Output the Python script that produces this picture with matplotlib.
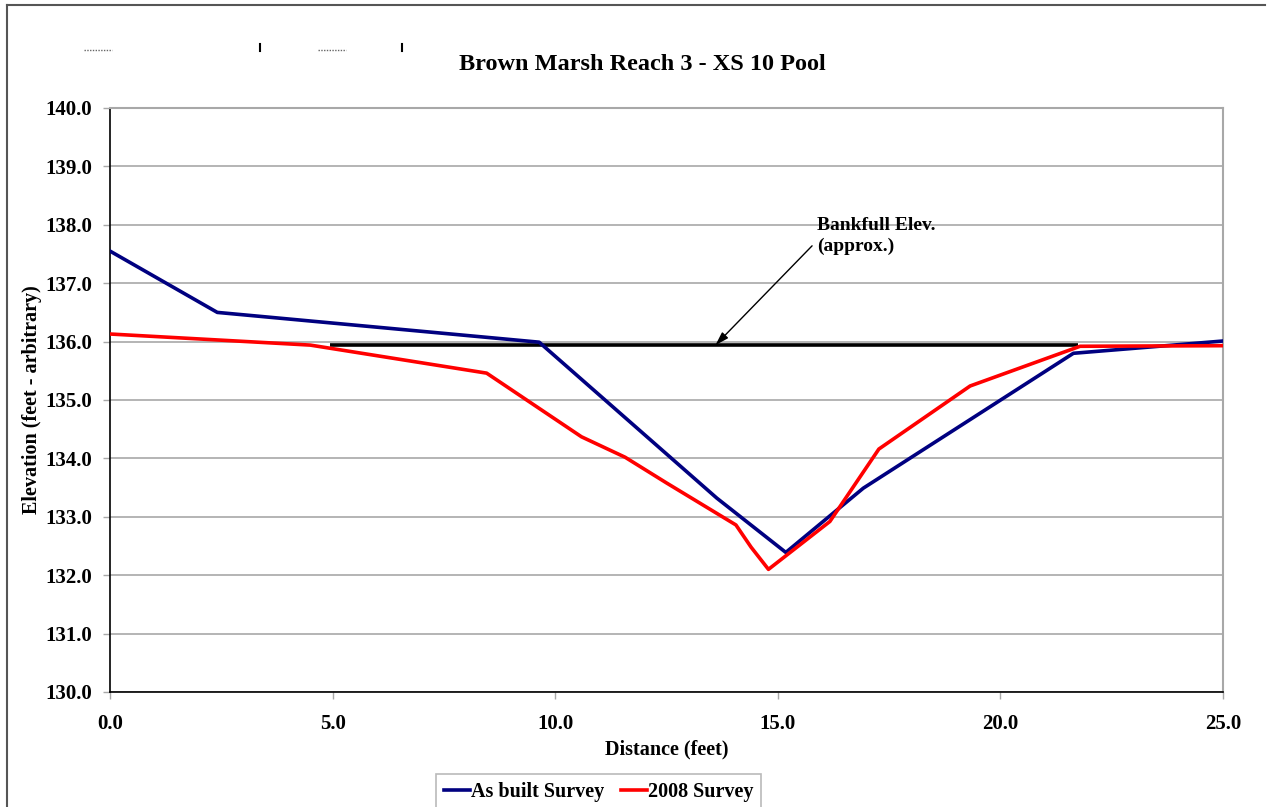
import matplotlib
matplotlib.use("Agg")
import matplotlib.pyplot as plt
from matplotlib.lines import Line2D

# survey data
asbuilt_x = [0.0, 2.41, 9.64, 13.63, 15.18, 16.92, 21.64, 25.0]
asbuilt_y = [137.55, 136.50, 135.99, 133.32, 132.39, 133.49, 135.80, 136.01]

survey08_x = [0.0, 4.5, 8.46, 10.59, 11.57, 12.5, 14.06, 14.4, 14.79, 16.17, 17.27, 19.32, 21.79, 25.0]
survey08_y = [136.13, 135.94, 135.46, 134.37, 134.02, 133.58, 132.86, 132.48, 132.10, 132.92, 134.16, 135.24, 135.92, 135.93]

bankfull_x = [4.94, 21.74]
bankfull_y = [135.94, 135.94]

x_ticks = [0, 5, 10, 15, 20, 25]
y_ticks = [130, 131, 132, 133, 134, 135, 136, 137, 138, 139, 140]

plt.rcParams['font.family'] = ['Liberation Serif', 'DejaVu Serif']
plt.rcParams['font.weight'] = 'bold'

W, H = 1272, 807
fig = plt.figure(figsize=(W / 100, H / 100), dpi=100)
ax = fig.add_axes([110 / W, 1 - 692 / H, (1223 - 110) / W, (692 - 108) / H])

grid_col = '#a8a8a8'
ax.set_xlim(0, 25)
ax.set_ylim(130, 140)
ax.set_yticks(y_ticks)
ax.set_xticks(x_ticks)
ax.set_yticklabels(["%.1f" % v for v in y_ticks], fontsize=15, fontweight='bold')
ax.set_xticklabels(["%.1f" % v for v in x_ticks], fontsize=15, fontweight='bold')
ax.yaxis.grid(True, color=grid_col, linewidth=1.2)
ax.set_axisbelow(True)
ax.tick_params(axis='both', direction='out', length=5, color=grid_col, width=1)
ax.tick_params(axis='x', pad=11)
ax.tick_params(axis='y', pad=8)
for s in ['top', 'right']:
    ax.spines[s].set_color(grid_col)
    ax.spines[s].set_linewidth(1.5)
for s in ['left', 'bottom']:
    ax.spines[s].set_color('black')
    ax.spines[s].set_linewidth(1.2)

ax.plot(bankfull_x, bankfull_y, color='black', linewidth=2.6, solid_capstyle='butt', zorder=2)
l1, = ax.plot(asbuilt_x, asbuilt_y, color='#000080', linewidth=2.6, zorder=3)
l2, = ax.plot(survey08_x, survey08_y, color='#ff0000', linewidth=2.6, zorder=4)

ax.annotate("", xy=(13.6, 135.94), xytext=(15.77, 137.64),
            arrowprops=dict(arrowstyle='-|>,head_width=0.25,head_length=0.8', color='black',
                            lw=1, shrinkA=0, shrinkB=0))
ax.text(15.88, 138.13, "Bankfull Elev.\n(approx.)", fontsize=14, fontweight='bold',
        ha='left', va='top', linespacing=1.3)

fig.text(642 / W, 1 - 65 / H, "Brown Marsh Reach 3 - XS 10 Pool", fontsize=17.5,
         fontweight='bold', ha='center', va='center')
ax.set_xlabel("Distance (feet)", fontsize=14.5, fontweight='bold', labelpad=4)
ax.set_ylabel("Elevation (feet - arbitrary)", fontsize=14.5, fontweight='bold', labelpad=2)

leg = fig.legend([l1, l2], ["As built Survey", "2008 Survey"], loc='lower left',
                 bbox_to_anchor=(436 / W, -3 / H), ncol=2, frameon=True,
                 fancybox=False, edgecolor=grid_col, fontsize=14.5, handlelength=1.3,
                 handletextpad=0.05, columnspacing=0.8, borderpad=0.4, borderaxespad=0)
leg.get_frame().set_linewidth(1.2)

# outer chart border and stray marks
fig.add_artist(Line2D([7 / W, 7 / W], [0, 1 - 5 / H], color='#555555', lw=1.5))
fig.add_artist(Line2D([7 / W, 1265 / W], [1 - 5 / H, 1 - 5 / H], color='#555555', lw=1.5))
for x0, x1 in [(84, 112), (318, 346)]:
    fig.add_artist(Line2D([x0 / W, x1 / W], [1 - 50 / H, 1 - 50 / H],
                          color='#666666', lw=1, linestyle=(0, (1, 1))))
for xv in [260, 402]:
    fig.add_artist(Line2D([xv / W, xv / W], [1 - 51 / H, 1 - 44 / H], color='black', lw=1.5))

fig.savefig("out.png", dpi=100)
